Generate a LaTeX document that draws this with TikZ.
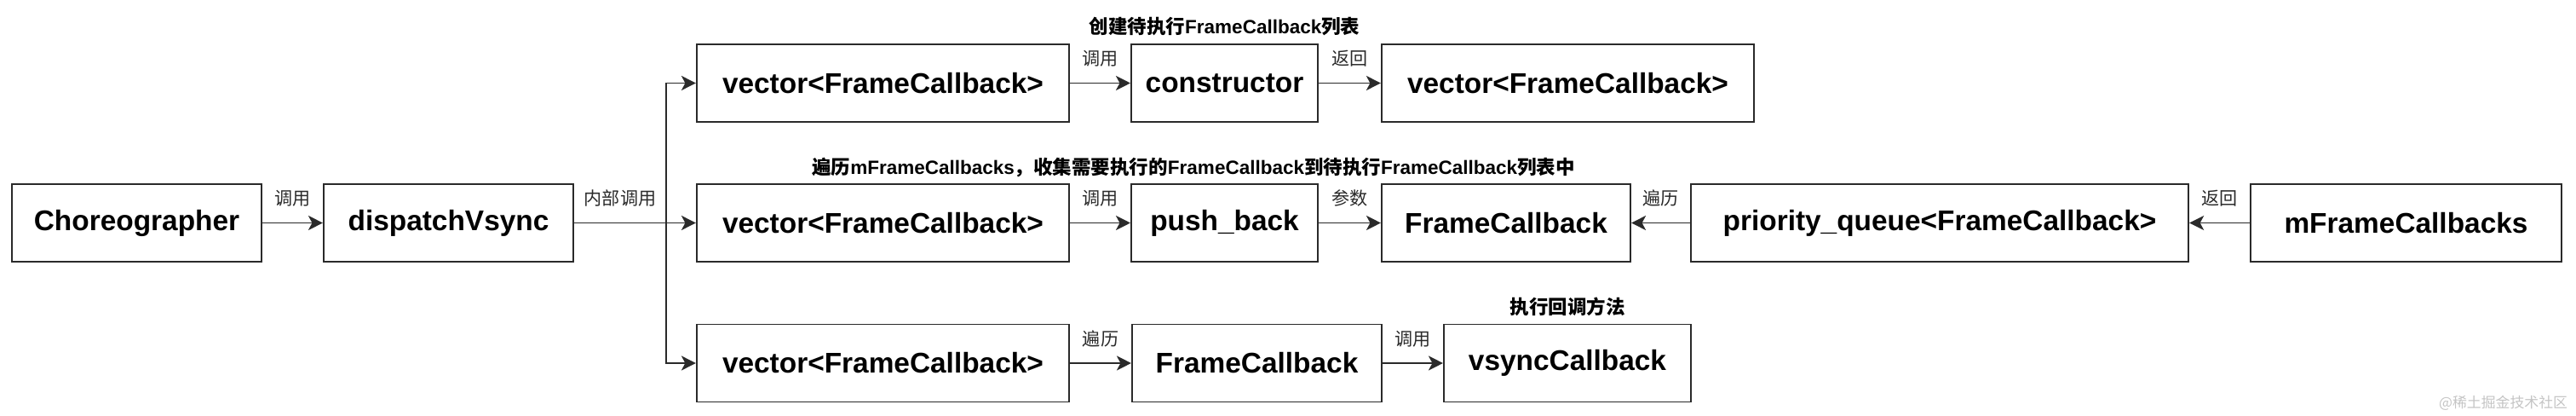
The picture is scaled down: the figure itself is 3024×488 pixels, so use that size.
\documentclass[tikz,border=0pt]{standalone}
\usepackage{fontspec}
\setmainfont{Liberation Sans}
\newfontfamily\cjk{Noto Sans CJK SC}
\usetikzlibrary{arrows.meta,positioning}
\definecolor{edge}{HTML}{2A2A2A}
\definecolor{wmgray}{HTML}{C4C4C4}
\newcommand{\zh}[1]{{\cjk #1}}

\begin{document}
\begin{tikzpicture}[x=0.01cm,y=-0.01cm,line width=0.55pt,
    >={Stealth[length=0.17cm,width=0.17cm,inset=0.045cm]},
    box/.style={draw=edge,minimum height=0.91cm,inner sep=0pt,font=\bfseries\fontsize{9.5}{11}\selectfont},
    lbl/.style={inner sep=0pt,font=\cjk\fontsize{6}{7}\selectfont},
    title/.style={inner sep=0pt,font=\bfseries\fontsize{6.4}{7.5}\selectfont},
    wm/.style={inner sep=0pt,text=wmgray,font=\cjk\fontsize{4.8}{6}\selectfont}]
    \useasboundingbox (0,0) rectangle (3024,488);

    % left part
    \node [box,minimum width=2.93cm] (chor) at (160.5,261.5) {Choreographer};
    \node [box,minimum width=2.93cm] (dispatch) at (526.5,261.5) {dispatchVsync};
    \coordinate (split) at (782,261.5);

    % top row: create list
    \node [box,minimum width=4.37cm] (vectop) at (1036.5,97.5) {vector<FrameCallback>};
    \node [box,minimum width=2.19cm] (ctor) at (1437.5,97.5) {constructor};
    \node [box,minimum width=4.37cm] (vecres) at (1840.5,97.5) {vector<FrameCallback>};
    \node [title,above=0.08cm of ctor] (ttop) {\zh{创建待执行}FrameCallback\zh{列表}};

    % middle row: collect callbacks
    \node [box,minimum width=4.37cm] (vecmid) at (1036.5,261.5) {vector<FrameCallback>};
    \node [box,minimum width=2.19cm] (push) at (1437.5,261.5) {push\_back};
    \node [box,minimum width=2.92cm] (fcmid) at (1768,261.5) {FrameCallback};
    \node [box,minimum width=5.84cm] (pq) at (2277,261.5) {priority\_queue<FrameCallback>};
    \node [box,minimum width=3.65cm] (mfc) at (2824.5,261.5) {mFrameCallbacks};
    \node [title] (tmid) at (1401,197) {\zh{遍历}mFrameCallbacks\zh{，收集需要执行的}FrameCallback\zh{到待执行}FrameCallback\zh{列表中}};

    % bottom row: run callbacks
    \node [box,minimum width=4.37cm] (vecbot) at (1036.5,426) {vector<FrameCallback>};
    \node [box,minimum width=2.93cm] (fcbot) at (1475.5,426) {FrameCallback};
    \node [box,minimum width=2.90cm] (vsync) at (1840,426) {vsyncCallback};
    \node [title,above=0.08cm of vsync] (tbot) {\zh{执行回调方法}};

    \draw [edge,->] (chor) -- node [lbl,above=0.18cm] {调用} (dispatch);
    \draw [edge] (dispatch) -- node [lbl,above=0.18cm] {内部调用} (split);
    \draw [edge,->] (split) |- (vectop.west);
    \draw [edge,->] (split) -- (vecmid);
    \draw [edge,->] (split) |- (vecbot.west);

    \draw [edge,->] (vectop) -- node [lbl,above=0.18cm] {调用} (ctor);
    \draw [edge,->] (ctor) -- node [lbl,above=0.18cm] {返回} (vecres);

    \draw [edge,->] (vecmid) -- node [lbl,above=0.18cm] {调用} (push);
    \draw [edge,->] (push) -- node [lbl,above=0.18cm] {参数} (fcmid);
    \draw [edge,->] (pq) -- node [lbl,above=0.18cm] {遍历} (fcmid);
    \draw [edge,->] (mfc) -- node [lbl,above=0.18cm] {返回} (pq);

    \draw [edge,->] (vecbot) -- node [lbl,above=0.18cm] {遍历} (fcbot);
    \draw [edge,->] (fcbot) -- node [lbl,above=0.18cm] {调用} (vsync);

    \node [wm,anchor=east] (mark) at (3015,473) {@稀土掘金技术社区};
\end{tikzpicture}
\end{document}
